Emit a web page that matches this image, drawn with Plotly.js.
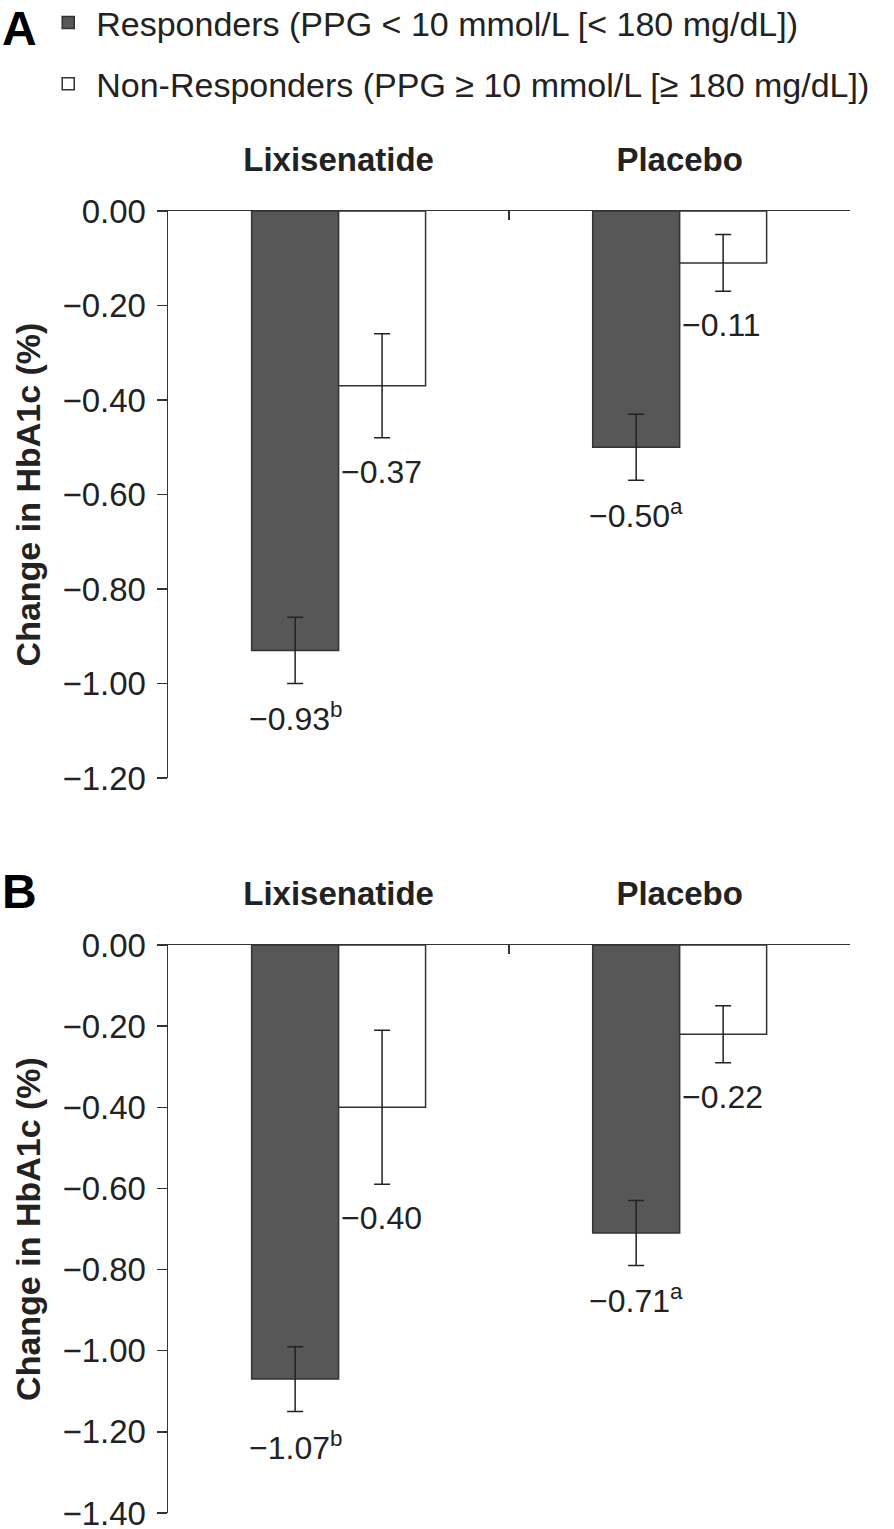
<!DOCTYPE html>
<html>
<head>
<meta charset="utf-8">
<script src="https://cdn.plot.ly/plotly-3.0.1.min.js"></script>
<style>
  html, body { margin: 0; padding: 0; background: #ffffff; }
  #chart { width: 894px; height: 1529px; }
</style>
</head>
<body>
<div id="chart"></div>
<script>
// ---- data ----
const groups = ['Lixisenatide', 'Placebo'];
const seriesNames = ['Responders (PPG < 10 mmol/L [< 180 mg/dL])', 'Non-Responders (PPG ≥ 10 mmol/L [≥ 180 mg/dL])'];

// Panel A
const respA = [-0.93, -0.50];
const respAErr = [0.07, 0.07];
const respAMark = ['b', 'a'];
const nonA = [-0.37, -0.11];
const nonAErr = [0.11, 0.06];
const nonAMark = ['', ''];

// Panel B
const respB = [-1.07, -0.71];
const respBErr = [0.08, 0.08];
const respBMark = ['b', 'a'];
const nonB = [-0.40, -0.22];
const nonBErr = [0.19, 0.07];
const nonBMark = ['', ''];

const yTicksA = [0, -0.2, -0.4, -0.6, -0.8, -1.0, -1.2];
const yTicksB = [0, -0.2, -0.4, -0.6, -0.8, -1.0, -1.2, -1.4];
const panelLetters = ['A', 'B'];
const yTitle = 'Change in HbA1c (%)';

// ---- styling ----
const FONT = 'Liberation Sans, Arial, Helvetica, sans-serif';
const INK = '#222222';
const DARK = '#575757';
const BARGAP = 0.49;

function fmt(v) { return (v < 0 ? '\u2212' : '') + Math.abs(v).toFixed(2); }

function barTrace(vals, errs, name, fill, xa, ya, group, showleg) {
  return {
    type: 'bar', x: groups, y: vals, name: name,
    xaxis: xa, yaxis: ya, legendgroup: group, showlegend: showleg,
    marker: { color: fill, line: { color: '#333333', width: 1.5 } },
    error_y: { type: 'data', array: errs, visible: true, color: INK, thickness: 1.5, width: 8 },
    hoverinfo: 'skip'
  };
}

const traces = [
  barTrace(respA, respAErr, seriesNames[0], DARK, 'x', 'y', 'r', true),
  barTrace(nonA, nonAErr, seriesNames[1], '#ffffff', 'x', 'y', 'n', true),
  barTrace(respB, respBErr, seriesNames[0], DARK, 'x2', 'y2', 'r', false),
  barTrace(nonB, nonBErr, seriesNames[1], '#ffffff', 'x2', 'y2', 'n', false)
];

// value labels
const halfOffset = (1 - BARGAP) / 4; // bar centre offset from category centre
const annotations = [];
function addLabels(vals, errs, marks, xref, yref, isResp) {
  vals.forEach((v, i) => {
    const txt = fmt(v) + (marks[i] ? '<sup>' + marks[i] + '</sup>' : '');
    annotations.push({
      xref: xref, yref: yref,
      x: isResp ? i - halfOffset : i,
      y: v - errs[i],
      xanchor: isResp ? 'center' : 'left',
      yanchor: 'middle',
      yshift: -34,
      showarrow: false,
      text: txt,
      font: { family: FONT, size: 32, color: INK }
    });
  });
}
addLabels(respA, respAErr, respAMark, 'x', 'y', true);
addLabels(nonA, nonAErr, nonAMark, 'x', 'y', false);
addLabels(respB, respBErr, respBMark, 'x2', 'y2', true);
addLabels(nonB, nonBErr, nonBMark, 'x2', 'y2', false);

// panel letters
annotations.push({ xref: 'paper', yref: 'paper', x: 0, y: 1, xanchor: 'left', yanchor: 'top', showarrow: false,
  text: '<b>' + panelLetters[0] + '</b>', font: { family: FONT, size: 48, color: '#000' } });
annotations.push({ xref: 'paper', yref: 'paper', x: 0, y: 1 - 863 / 1529, xanchor: 'left', yanchor: 'top', showarrow: false,
  text: '<b>' + panelLetters[1] + '</b>', font: { family: FONT, size: 48, color: '#000' } });

function xAxis(anchor) {
  return {
    domain: [0.188, 0.951], anchor: anchor, type: 'category', side: 'top',
    showline: true, linecolor: '#333333', linewidth: 1.5,
    ticks: 'inside', ticklen: 9, tickwidth: 1.5, tickcolor: '#333333',
    tickson: 'boundaries', ticklabelstandoff: 25,
    tickfont: { family: FONT, size: 33, weight: 'bold', color: INK },
    showgrid: false, zeroline: false, fixedrange: true
  };
}
function yAxis(domain, range, tickvals, anchor) {
  return {
    domain: domain, range: range, anchor: anchor,
    tickvals: tickvals, tickformat: '.2f',
    ticks: 'outside', ticklen: 10, tickwidth: 1.5, tickcolor: '#333333',
    ticklabelstandoff: 4, ticklabeloverflow: 'allow',
    showline: true, linecolor: '#333333', linewidth: 1.5,
    showgrid: false, zeroline: false, fixedrange: true,
    automargin: true,
    tickfont: { family: FONT, size: 33, color: INK },
    title: { text: yTitle, font: { family: FONT, size: 34, weight: 'bold', color: INK }, standoff: 11 }
  };
}

const layout = {
  width: 894, height: 1529,
  margin: { l: 0, r: 0, t: 0, b: 0, autoexpand: false },
  paper_bgcolor: '#ffffff', plot_bgcolor: '#ffffff',
  font: { family: FONT, color: INK },
  barmode: 'group', bargap: BARGAP, bargroupgap: 0,
  showlegend: true,
  legend: {
    x: 0.045, y: 1.004, xanchor: 'left', yanchor: 'top',
    font: { family: FONT, size: 34, color: INK },
    traceorder: 'grouped', tracegroupgap: 14, itemwidth: 46,
    bgcolor: 'rgba(0,0,0,0)', itemclick: false, itemdoubleclick: false
  },
  xaxis: xAxis('y'),
  yaxis: yAxis([1 - 778 / 1529, 1 - 211 / 1529], [-1.2001, 0], yTicksA, 'x'),
  xaxis2: xAxis('y2'),
  yaxis2: yAxis([1 - 1513 / 1529, 1 - 945 / 1529], [-1.4001, 0], yTicksB, 'x2'),
  annotations: annotations
};

Plotly.newPlot('chart', traces, layout, { staticPlot: true, displayModeBar: false });
</script>
</body>
</html>
